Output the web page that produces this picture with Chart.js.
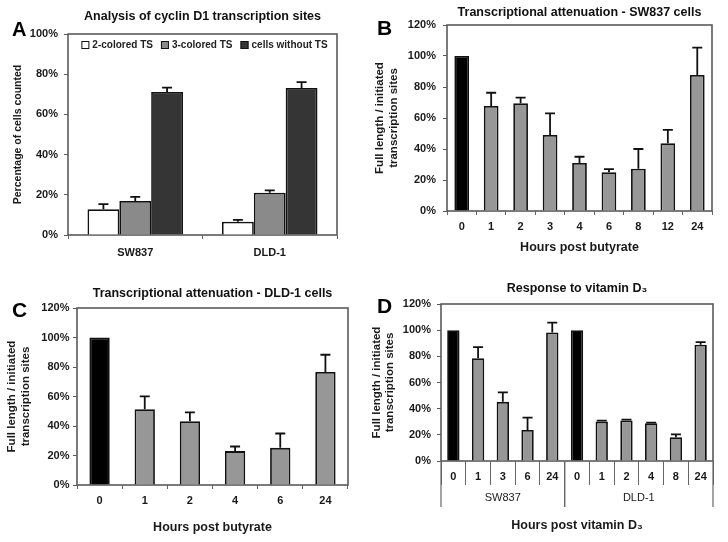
<!DOCTYPE html>
<html>
<head>
<meta charset="utf-8">
<script src="https://cdn.jsdelivr.net/npm/chart.js@4.4.0/dist/chart.umd.min.js"></script>
<style>
  body { margin: 0; background: #fff; }
  #fig { position: relative; width: 728px; height: 542px; font-family: "Liberation Sans", Arial, sans-serif; }
  .panel { position: absolute; width: 364px; height: 271px; }
  .letter { position: absolute; font-weight: bold; font-size: 21px; line-height: 1; color: #000; }
</style>
</head>
<body>
<div id="fig">
  <div class="panel" style="left:0;top:0"><canvas id="chartA" width="364" height="271"></canvas></div>
  <div class="panel" style="left:364px;top:0"><canvas id="chartB" width="364" height="271"></canvas></div>
  <div class="panel" style="left:0;top:271px"><canvas id="chartC" width="364" height="271"></canvas></div>
  <div class="panel" style="left:364px;top:271px"><canvas id="chartD" width="364" height="271"></canvas></div>
  <div class="letter" style="left:12px;top:19px;font-size:20px">A</div>
  <div class="letter" style="left:377px;top:17px">B</div>
  <div class="letter" style="left:12px;top:299px">C</div>
  <div class="letter" style="left:377px;top:295px">D</div>
</div>
<script>
// A - cyclin D1 transcription sites
const groupsA = ['SW837', 'DLD-1'];
const twoColored = [12.8, 6.6];
const twoColoredErr = [2.6, 0.9];
const threeColored = [16.9, 21.0];
const threeColoredErr = [2.1, 1.2];
const withoutTS = [71.1, 73.1];
const withoutTSErr = [2.2, 3.0];

// B - SW837, hours post butyrate
const hoursB = ['0', '1', '2', '3', '4', '6', '8', '12', '24'];
const sw837Butyrate = [100, 67.7, 69.5, 49.0, 31.0, 25.0, 27.3, 43.7, 87.7];
const sw837ButyrateErr = [0, 8.6, 3.6, 14.0, 4.0, 2.0, 12.7, 8.6, 17.7];

// C - DLD-1, hours post butyrate
const hoursC = ['0', '1', '2', '4', '6', '24'];
const dld1Butyrate = [100, 51.4, 43.2, 23.0, 25.2, 76.6];
const dld1ButyrateErr = [0, 8.7, 6.1, 3.1, 9.7, 11.7];

// D - vitamin D3, both cell lines
const hoursD = ['0', '1', '3', '6', '24', '0', '1', '2', '4', '8', '24'];
const cellLinesD = ['SW837', 'DLD-1'];
const groupSizesD = [5, 6];
const vitaminD = [100, 78.6, 45.2, 23.7, 98.3, 100, 30.1, 30.9, 28.9, 18.1, 88.8];
const vitaminDErr = [0, 8.4, 7.2, 9.5, 7.4, 0, 0.8, 0.8, 0.5, 2.3, 2.1];

const FONT = '"Liberation Sans", Arial, sans-serif';
Chart.defaults.font.family = FONT;
Chart.defaults.color = '#1a1a1a';
Chart.defaults.animation = false;

const GRAY = '#979797';
const barColors = labels => labels.map(h => h === '0' ? '#000' : GRAY);

// box around plot area
const frame = {
  id: 'frame',
  beforeDatasetsDraw(chart) {
    const a = chart.chartArea, ctx = chart.ctx;
    ctx.save();
    ctx.strokeStyle = '#5a5a5a';
    ctx.lineWidth = 1.6;
    ctx.strokeRect(a.left, a.top, a.right - a.left, a.bottom - a.top);
    ctx.restore();
  }
};

// title centred over the plot area
const panelTitle = {
  id: 'panelTitle',
  afterDraw(chart, args, opts) {
    const a = chart.chartArea, ctx = chart.ctx;
    ctx.save();
    ctx.font = 'bold 12.5px ' + FONT;
    ctx.fillStyle = '#111';
    ctx.textAlign = 'center';
    ctx.textBaseline = 'middle';
    ctx.fillText(opts.text, (a.left + a.right) / 2, opts.y);
    ctx.restore();
  }
};

// upper error whiskers
const errorBars = {
  id: 'errorBars',
  afterDatasetsDraw(chart) {
    const ctx = chart.ctx, y = chart.scales.y;
    chart.data.datasets.forEach((ds, di) => {
      if (!ds.errors) return;
      chart.getDatasetMeta(di).data.forEach((bar, i) => {
        const e = ds.errors[i];
        if (!e) return;
        const top = y.getPixelForValue(ds.data[i] + e);
        ctx.save();
        ctx.strokeStyle = '#111';
        ctx.lineWidth = 1.8;
        ctx.beginPath();
        ctx.moveTo(bar.x, bar.y);
        ctx.lineTo(bar.x, top);
        ctx.moveTo(bar.x - 5, top);
        ctx.lineTo(bar.x + 5, top);
        ctx.stroke();
        ctx.restore();
      });
    });
  }
};

// one-row legend inside the top of the plot (panel A)
const insideLegend = {
  id: 'insideLegend',
  afterDraw(chart) {
    const ctx = chart.ctx, a = chart.chartArea;
    ctx.save();
    ctx.font = 'bold 10px ' + FONT;
    const items = chart.data.datasets.map(ds => ({ ds: ds, w: 11 + ctx.measureText(ds.label).width }));
    const gap = 8;
    const total = items.reduce((s, it) => s + it.w, 0) + gap * (items.length - 1);
    let x = (a.left + a.right) / 2 - total / 2 + 2;
    const y = a.top + 11;
    ctx.textBaseline = 'middle';
    items.forEach(it => {
      ctx.fillStyle = it.ds.backgroundColor;
      ctx.fillRect(x, y - 4, 8, 8);
      ctx.strokeStyle = '#111';
      ctx.lineWidth = 1;
      ctx.strokeRect(x + 0.5, y - 3.5, 7, 7);
      ctx.fillStyle = '#222';
      ctx.fillText(it.ds.label, x + 11, y + 0.5);
      x += it.w + gap;
    });
    ctx.restore();
  }
};

// cell line groups under panel D
const groupAxis = {
  id: 'groupAxis',
  afterDraw(chart) {
    const x = chart.scales.x, a = chart.chartArea, ctx = chart.ctx;
    const half = (x.getPixelForValue(1) - x.getPixelForValue(0)) / 2;
    let start = 0;
    ctx.save();
    ctx.strokeStyle = '#666';
    ctx.lineWidth = 1.2;
    ctx.fillStyle = '#1a1a1a';
    ctx.font = '11px ' + FONT;
    ctx.textAlign = 'center';
    ctx.textBaseline = 'middle';
    groupSizesD.forEach((n, g) => {
      const left = x.getPixelForValue(start) - half;
      const right = x.getPixelForValue(start + n - 1) + half;
      ctx.beginPath();
      ctx.moveTo(left, a.bottom);
      ctx.lineTo(left, a.bottom + 46);
      ctx.moveTo(right, a.bottom);
      ctx.lineTo(right, a.bottom + 46);
      ctx.stroke();
      ctx.fillText(cellLinesD[g], (left + right) / 2, a.bottom + 37);
      start += n;
    });
    ctx.restore();
  }
};

function yScale(max, width, pad, text, titlePad, titleSize) {
  return {
    min: 0, max: max,
    ticks: { stepSize: 20, padding: pad, font: { size: 11, weight: 'bold' }, callback: v => v + '%' },
    grid: { drawOnChartArea: false, tickLength: 4, color: '#5a5a5a' },
    border: { display: false },
    title: { display: true, text: text, font: { size: titleSize || 11.5, weight: 'bold' }, padding: { top: titlePad, bottom: 0 } },
    afterFit: s => { s.width = width; }
  };
}

function xScale(height, tickLen, pad, text, titlePad) {
  return {
    ticks: { padding: pad, font: { size: 11, weight: 'bold' }, autoSkip: false, maxRotation: 0 },
    grid: { drawOnChartArea: false, tickLength: tickLen, color: '#666' },
    border: { display: false },
    title: { display: !!text, text: text, font: { size: 12.5, weight: 'bold' }, padding: { top: 0, bottom: titlePad } },
    afterFit: s => { s.height = height; }
  };
}

const ytitle = ['Full length / initiated', 'transcription sites'];

new Chart(document.getElementById('chartA'), {
  type: 'bar',
  data: {
    labels: groupsA,
    datasets: [
      { label: '2-colored TS', data: twoColored, errors: twoColoredErr, backgroundColor: '#fff', borderColor: '#111', borderWidth: 1.7 },
      { label: '3-colored TS', data: threeColored, errors: threeColoredErr, backgroundColor: '#8a8a8a', borderColor: '#111', borderWidth: 1.7 },
      { label: 'cells without TS', data: withoutTS, errors: withoutTSErr, backgroundColor: '#353535', borderColor: '#111', borderWidth: 1.7 }
    ]
  },
  options: {
    responsive: false,
    devicePixelRatio: 1,
    categoryPercentage: 0.71,
    barPercentage: 1,
    layout: { padding: { left: 0, right: 27, top: 34, bottom: 0 } },
    plugins: {
      panelTitle: { text: 'Analysis of cyclin D1 transcription sites', y: 17 },
      legend: { display: false },
      tooltip: { enabled: false }
    },
    scales: {
      x: xScale(36, 4, 7.4, ''),
      y: yScale(100, 68, 6, 'Percentage of cells counted', 11.5, 10.5)
    }
  },
  plugins: [frame, errorBars, panelTitle, insideLegend]
});

new Chart(document.getElementById('chartB'), {
  type: 'bar',
  data: {
    labels: hoursB,
    datasets: [{ data: sw837Butyrate, errors: sw837ButyrateErr, backgroundColor: barColors(hoursB), borderColor: '#111', borderWidth: 1.8 }]
  },
  options: {
    responsive: false,
    devicePixelRatio: 1,
    categoryPercentage: 1,
    barPercentage: 0.5,
    layout: { padding: { left: 0, right: 16, top: 25, bottom: 0 } },
    plugins: {
      panelTitle: { text: 'Transcriptional attenuation - SW837 cells', y: 13 },
      legend: { display: false },
      tooltip: { enabled: false }
    },
    scales: {
      x: xScale(60, 4, 5.4, 'Hours post butyrate', 15.5),
      y: yScale(120, 83, 7, ytitle, 9)
    }
  },
  plugins: [frame, errorBars, panelTitle]
});

new Chart(document.getElementById('chartC'), {
  type: 'bar',
  data: {
    labels: hoursC,
    datasets: [{ data: dld1Butyrate, errors: dld1ButyrateErr, backgroundColor: barColors(hoursC), borderColor: '#111', borderWidth: 1.8 }]
  },
  options: {
    responsive: false,
    devicePixelRatio: 1,
    categoryPercentage: 1,
    barPercentage: 0.45,
    layout: { padding: { left: 0, right: 16, top: 37, bottom: 0 } },
    plugins: {
      panelTitle: { text: 'Transcriptional attenuation - DLD-1 cells', y: 23 },
      legend: { display: false },
      tooltip: { enabled: false }
    },
    scales: {
      x: xScale(57, 4, 5.4, 'Hours post butyrate', 6.5),
      y: yScale(120, 77, 3.5, ytitle, 5)
    }
  },
  plugins: [frame, errorBars, panelTitle]
});

new Chart(document.getElementById('chartD'), {
  type: 'bar',
  data: {
    labels: hoursD,
    datasets: [{ data: vitaminD, errors: vitaminDErr, backgroundColor: barColors(hoursD), borderColor: '#111', borderWidth: 1.8 }]
  },
  options: {
    responsive: false,
    devicePixelRatio: 1,
    categoryPercentage: 1,
    barPercentage: 0.5,
    layout: { padding: { left: 0, right: 15, top: 33, bottom: 0 } },
    plugins: {
      panelTitle: { text: 'Response to vitamin D\u2083', y: 18 },
      legend: { display: false },
      tooltip: { enabled: false }
    },
    scales: {
      x: xScale(81, 24, -14.6, 'Hours post vitamin D\u2083', 8.5),
      y: yScale(120, 77, 6, ytitle, 5.6)
    }
  },
  plugins: [frame, errorBars, panelTitle, groupAxis]
});
</script>
</body>
</html>
